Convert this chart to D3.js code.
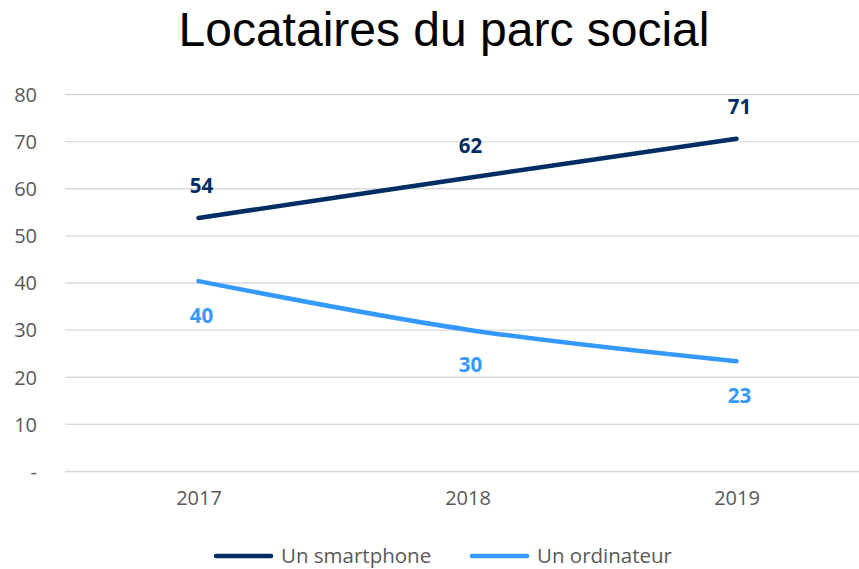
<!DOCTYPE html>
<html>
<head>
<meta charset="utf-8">
<script src="https://cdn.jsdelivr.net/npm/d3@7"></script>
<style>
  body { margin: 0; background: #fff; }
  svg { display: block; }
</style>
</head>
<body>
<div id="chart"></div>
<script>
// data
var years = ["2017", "2018", "2019"];
var smartphone = [53.8, 62.3, 70.6];
var ordinateur = [40.4, 30.1, 23.4];
var yTicks = [0, 10, 20, 30, 40, 50, 60, 70, 80];
var seriesNames = ["Un smartphone", "Un ordinateur"];
var seriesColors = ["#002D62", "#3399FF"];

var svgWidth = 859;
var svgHeight = 569;

var svg = d3.select("#chart")
  .append("svg")
  .attr("width", svgWidth)
  .attr("height", svgHeight);

// scales
var x = d3.scalePoint()
  .domain(years)
  .range([198.5, 736.5]);

var y = d3.scaleLinear()
  .domain([0, 80])
  .range([471.5, 94.5]);

// title
svg.append("text")
  .attr("x", 444)
  .attr("y", 46)
  .attr("text-anchor", "middle")
  .style("font-family", "'Liberation Sans', Arial, sans-serif")
  .style("font-size", "48px")
  .attr("fill", "#000")
  .text("Locataires du parc social");

// gridlines
svg.append("g")
  .selectAll("line")
  .data(yTicks)
  .enter()
  .append("line")
  .attr("x1", 65)
  .attr("x2", svgWidth)
  .attr("y1", d => y(d))
  .attr("y2", d => y(d))
  .attr("stroke", "#D9D9D9")
  .attr("stroke-width", 1.3);

// y labels
var leftAxis = d3.axisLeft(y)
  .tickValues(yTicks)
  .tickSize(0)
  .tickPadding(0)
  .tickFormat(d => d === 0 ? "-" : d);

var yAxis = svg.append("g")
  .attr("transform", "translate(37, 0)")
  .call(leftAxis);

yAxis.select(".domain").remove();
yAxis.selectAll("text")
  .attr("fill", "#595959")
  .attr("dy", "0.34em")
  .style("font-family", "'Open Sans', 'Noto Sans', sans-serif")
  .style("font-size", "20px");

// x labels
var bottomAxis = d3.axisBottom(x).tickSize(0).tickPadding(0);
var xAxis = svg.append("g")
  .attr("transform", "translate(0, 491)")
  .call(bottomAxis);

xAxis.select(".domain").remove();
xAxis.selectAll("text")
  .attr("fill", "#595959")
  .style("font-family", "'Open Sans', 'Noto Sans', sans-serif")
  .style("font-size", "20px");

// lines
var line = d3.line()
  .x((d, i) => x(years[i]))
  .y(d => y(d))
  .curve(d3.curveCardinal.tension(0));

var allSeries = [smartphone, ordinateur];

svg.selectAll(".series")
  .data(allSeries)
  .enter()
  .append("path")
  .attr("class", "series")
  .attr("d", d => line(d))
  .attr("fill", "none")
  .attr("stroke", (d, i) => seriesColors[i])
  .attr("stroke-width", 4.5)
  .attr("stroke-linecap", "round")
  .attr("stroke-linejoin", "round");

// value labels: smartphone above, ordinateur below
var labelOffsets = [-25, 42];
allSeries.forEach(function (values, s) {
  svg.append("g")
    .selectAll("text")
    .data(values)
    .enter()
    .append("text")
    .attr("x", (d, i) => x(years[i]) + 3)
    .attr("y", d => y(d) + labelOffsets[s])
    .attr("text-anchor", "middle")
    .attr("fill", seriesColors[s])
    .style("font-family", "'Open Sans', 'Noto Sans', sans-serif")
    .style("font-weight", "bold")
    .style("font-size", "20.5px")
    .text(d => Math.round(d));
});

// legend
var legendX = [216, 472];
var legend = svg.append("g");
seriesNames.forEach(function (name, i) {
  legend.append("line")
    .attr("x1", legendX[i])
    .attr("x2", legendX[i] + 55)
    .attr("y1", 556)
    .attr("y2", 556)
    .attr("stroke", seriesColors[i])
    .attr("stroke-width", 4.5)
    .attr("stroke-linecap", "round");
  legend.append("text")
    .attr("x", legendX[i] + 65)
    .attr("y", 563)
    .attr("fill", "#595959")
    .style("font-family", "'Open Sans', 'Noto Sans', sans-serif")
    .style("font-size", "20.5px")
    .text(name);
});
</script>
</body>
</html>
